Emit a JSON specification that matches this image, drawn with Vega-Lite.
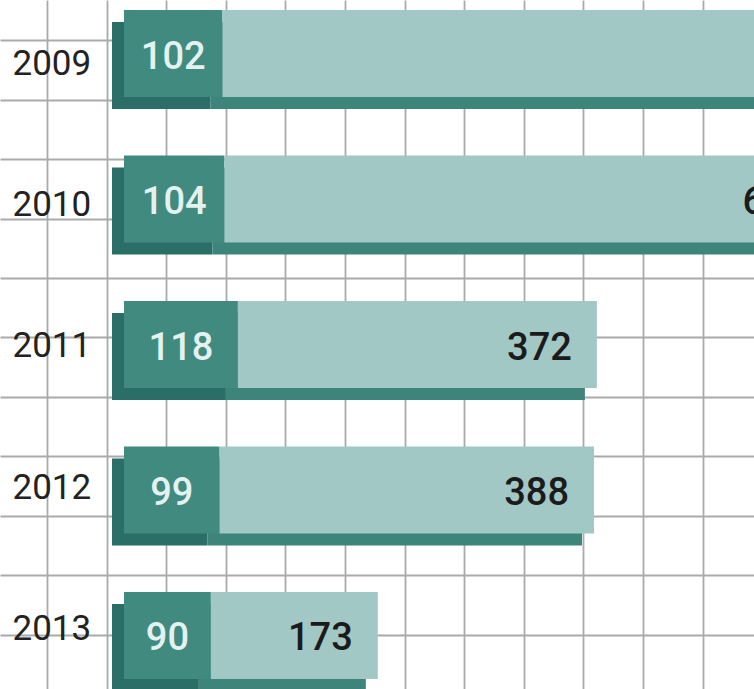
{
  "$schema": "https://vega.github.io/schema/vega-lite/v6.json",
  "width": 754,
  "height": 689,
  "autosize": {"type": "none"},
  "padding": 0,
  "background": "white",
  "config": {"view": {"stroke": null}},
  "data": {
    "values": [
      {"year": 2009, "segment": "dark", "value": 102},
      {"year": 2009, "segment": "light", "value": 655},
      {"year": 2010, "segment": "dark", "value": 104},
      {"year": 2010, "segment": "light", "value": 630},
      {"year": 2011, "segment": "dark", "value": 118},
      {"year": 2011, "segment": "light", "value": 372},
      {"year": 2012, "segment": "dark", "value": 99},
      {"year": 2012, "segment": "light", "value": 388},
      {"year": 2013, "segment": "dark", "value": 90},
      {"year": 2013, "segment": "light", "value": 173}
    ]
  },
  "layer": [
    {
      "layer": [
        {
          "mark": {"type": "bar", "height": 87, "xOffset": -12, "x2Offset": -12, "yOffset": 12, "clip": true},
          "encoding": {
            "y": {"field": "year", "type": "nominal", "axis": null,
                  "scale": {"domain": [2009, 2010, 2011, 2012, 2013], "paddingInner": 0.2646, "paddingOuter": 0}},
            "x": {"field": "value", "type": "quantitative", "stack": "zero",
                  "scale": {"domain": [-128.5, 652.8], "nice": false, "zero": false},
                  "axis": {"grid": true, "labels": false, "ticks": false, "domain": false, "title": null,
                           "gridColor": "#aaaaaa", "gridWidth": 1.8,
                           "values": [-79.8, -18.0, 43.7, 105.5, 167.3, 229.0, 290.8, 352.5, 414.3, 476.1, 537.8, 599.6]}},
            "detail": {"field": "segment"},
            "order": {"field": "segment"},
            "color": {"condition": {"test": "datum.segment === 'dark'", "value": "#2b6e67"}, "value": "#3d857b"}
          }
        },
        {
          "mark": {"type": "bar", "height": 87, "clip": true},
          "encoding": {
            "y": {"field": "year", "type": "nominal", "axis": null},
            "x": {"field": "value", "type": "quantitative", "stack": "zero"},
            "detail": {"field": "segment"},
            "order": {"field": "segment"},
            "color": {"condition": {"test": "datum.segment === 'dark'", "value": "#408a80"}, "value": "#a1c8c4"}
          }
        },
        {
          "mark": {"type": "text", "font": "Roboto", "fontSize": 38, "fontWeight": 500, "align": "center", "baseline": "middle", "dy": 4, "color": "#e4f2ef"},
          "encoding": {
            "y": {"field": "year", "type": "nominal", "axis": null},
            "x": {"field": "value", "type": "quantitative", "stack": "zero", "bandPosition": 0.5},
            "detail": {"field": "segment"},
            "order": {"field": "segment"},
            "text": {"condition": {"test": "datum.segment === 'dark'", "field": "value", "type": "quantitative"}, "value": ""}
          }
        },
        {
          "mark": {"type": "text", "font": "Roboto", "fontSize": 38, "fontWeight": 500, "align": "right", "baseline": "middle", "dx": -25, "dy": 4, "color": "#1b1b1b"},
          "encoding": {
            "y": {"field": "year", "type": "nominal", "axis": null},
            "x": {"field": "value", "type": "quantitative", "stack": "zero", "bandPosition": 1},
            "detail": {"field": "segment"},
            "order": {"field": "segment"},
            "text": {"condition": {"test": "datum.segment === 'light'", "field": "value", "type": "quantitative"}, "value": ""}
          }
        }
      ]
    },
    {
      "transform": [{"filter": "datum.segment === 'dark'"}],
      "mark": {"type": "text", "font": "Roboto", "fontSize": 35, "align": "right", "baseline": "middle", "color": "#222222"},
      "encoding": {
        "y": {"field": "year", "type": "quantitative",
              "scale": {"domain": [2008.5509, 2013.4236], "reverse": true, "nice": false, "zero": false},
              "axis": {"grid": true, "labels": false, "ticks": false, "domain": false, "title": null,
                       "gridColor": "#aaaaaa", "gridWidth": 1.8,
                       "values": [2008.8338, 2009.2546, 2009.6754, 2010.0962, 2010.517, 2010.9377, 2011.3585, 2011.7793, 2012.2001, 2012.6209, 2013.0417]}},
        "x": {"datum": -34, "type": "quantitative"},
        "text": {"field": "year", "type": "nominal"}
      }
    }
  ],
  "resolve": {"scale": {"y": "independent"}, "axis": {"y": "independent"}}
}
